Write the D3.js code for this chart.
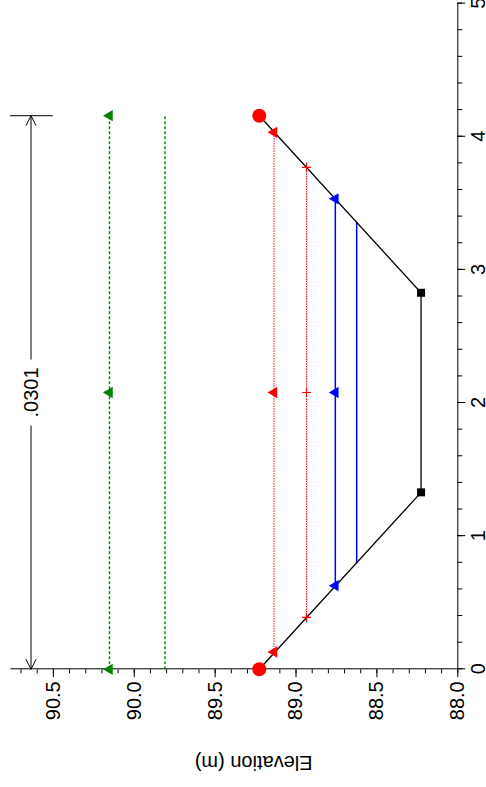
<!DOCTYPE html>
<html>
<head>
<meta charset="utf-8">
<script src="https://cdn.jsdelivr.net/npm/d3@7"></script>
<style>
  html, body { margin: 0; padding: 0; background: #fff; }
  svg { display: block; font-family: "Liberation Sans", Arial, sans-serif; }
  .axis path, .axis line { stroke: #000; stroke-width: 1; }
  .axis text { font-size: 20px; fill: #000; }
</style>
</head>
<body>
<svg id="chart" width="486" height="787"></svg>
<script>
// ground section (station m, elevation m)
const groundStation = [0, 1.329, 2.828, 4.158];
const groundElev = [89.224, 88.224, 88.224, 89.224];
const groundMarker = ["circle", "square", "square", "circle"];

// water levels drawn across the section
const levelElev = [90.15, 89.807, 89.133, 88.932, 88.754, 88.622];
const levelFrom = [0, 0, 0.13, 0.39, 0.628, 0.796];
const levelTo = [4.158, 4.158, 4.033, 3.77, 3.534, 3.36];
const levelColor = ["#008000", "#008000", "#ff0000", "#ff0000", "#0000ff", "#0000ff"];
const levelDash = ["3,2", "3,2", "1.5,1", "1.5,1", null, null];
const levelMarker = ["triangle", null, "triangle", "plus", "triangle", null];
const levelMarkerStation = [
  [0, 2.079, 4.158],
  [],
  [0.13, 2.079, 4.033],
  [0.39, 2.079, 3.77],
  [0.628, 2.079, 3.534],
  []
];

// dimension line on top
const dimElev = 90.635;
const dimFrom = 0;
const dimTo = 4.158;
const dimLabel = ".0301";

const stationTicks = [0, 1, 2, 3, 4, 5];
const elevTicks = [88.0, 88.5, 89.0, 89.5, 90.0, 90.5];

// chart is drawn upright then turned a quarter turn (counter-clockwise)
const W = 787, H = 486;
const svg = d3.select("#chart");
const g = svg.append("g").attr("transform", `translate(0,${W}) rotate(-90)`);

const x = d3.scaleLinear().domain([0, 5]).range([117.7, 783.4]);
const y = d3.scaleLinear().domain([88, 90.765]).range([457.3, 10]);

// minor ticks first, then main axes
g.append("g")
  .attr("class", "axis")
  .attr("transform", `translate(0,${y(88)})`)
  .call(d3.axisBottom(x).ticks(25).tickSize(5).tickSizeOuter(0).tickFormat(""))
  .call(s => s.select(".domain").remove());

g.append("g")
  .attr("class", "axis")
  .attr("transform", `translate(${x(0)},0)`)
  .call(d3.axisLeft(y).tickValues(d3.range(88, 90.76, 0.1)).tickSize(4).tickSizeOuter(0).tickFormat(""))
  .call(s => s.select(".domain").remove());

g.append("g")
  .attr("class", "axis")
  .attr("transform", `translate(0,${y(88)})`)
  .call(d3.axisBottom(x).tickValues(stationTicks).tickSize(8).tickSizeOuter(0).tickPadding(6).tickFormat(d3.format("d")));

g.append("g")
  .attr("class", "axis")
  .attr("transform", `translate(${x(0)},0)`)
  .call(d3.axisLeft(y).tickValues(elevTicks).tickSize(8).tickSizeOuter(0).tickPadding(4).tickFormat(d3.format(".1f")));

g.append("text")
  .attr("transform", `translate(24,${(y(88) + y(90.765)) / 2 + 20}) rotate(-90)`)
  .attr("text-anchor", "middle")
  .attr("dominant-baseline", "central")
  .style("font-size", "20px")
  .text("Elevation (m)");

// levels
levelElev.forEach((e, i) => {
  g.append("line")
    .attr("x1", x(levelFrom[i]))
    .attr("x2", x(levelTo[i]))
    .attr("y1", y(e))
    .attr("y2", y(e))
    .attr("stroke", levelColor[i])
    .attr("stroke-width", levelDash[i] ? (levelColor[i] === "#008000" ? 1.4 : 1) : 1.5)
    .attr("stroke-dasharray", levelDash[i]);
});

// ground line
const line = d3.line().x(d => x(d[0])).y(d => y(d[1]));
g.append("path")
  .datum(d3.zip(groundStation, groundElev))
  .attr("d", line)
  .attr("fill", "none")
  .attr("stroke", "#000")
  .attr("stroke-width", 1.3);

// dimension line with open arrows
const dimY = y(dimElev);
const dim = g.append("g").attr("stroke", "#000").attr("stroke-width", 1).attr("fill", "none");
const labelText = g.append("text")
  .attr("x", x((dimFrom + dimTo) / 2))
  .attr("y", dimY)
  .attr("text-anchor", "middle")
  .attr("dominant-baseline", "central")
  .style("font-size", "20px")
  .text(dimLabel);
const halfGap = labelText.node().getComputedTextLength() / 2 + 8;
const midX = x((dimFrom + dimTo) / 2);
dim.append("line").attr("x1", x(dimFrom)).attr("x2", midX - halfGap).attr("y1", dimY).attr("y2", dimY);
dim.append("line").attr("x1", midX + halfGap).attr("x2", x(dimTo)).attr("y1", dimY).attr("y2", dimY);
dim.append("line").attr("x1", x(dimTo)).attr("x2", x(dimTo)).attr("y1", y(90.5)).attr("y2", y(90.765));
[[x(dimFrom), 1], [x(dimTo), -1]].forEach(([px, dir]) => {
  dim.append("path").attr("d", `M${px + dir * 10},${dimY - 5}L${px},${dimY}L${px + dir * 10},${dimY + 5}`);
});

// markers
function drawMarker(type, cx, cy, color) {
  if (type === "triangle") {
    g.append("path")
      .attr("transform", `translate(${cx},${cy})`)
      .attr("d", d3.symbol(d3.symbolTriangle, 55)())
      .attr("fill", color);
  } else if (type === "plus") {
    g.append("path")
      .attr("d", `M${cx - 4.5},${cy}H${cx + 4.5}M${cx},${cy - 4.5}V${cy + 4.5}`)
      .attr("stroke", color)
      .attr("stroke-width", 1.2);
  } else if (type === "circle") {
    g.append("circle").attr("cx", cx).attr("cy", cy).attr("r", 7).attr("fill", color);
  } else if (type === "square") {
    g.append("rect").attr("x", cx - 4).attr("y", cy - 4).attr("width", 8).attr("height", 8).attr("fill", color);
  }
}

levelElev.forEach((e, i) => {
  if (!levelMarker[i]) return;
  levelMarkerStation[i].forEach(s => drawMarker(levelMarker[i], x(s), y(e), levelColor[i]));
});

groundStation.forEach((s, i) => {
  drawMarker(groundMarker[i], x(s), y(groundElev[i]), groundMarker[i] === "circle" ? "#ff0000" : "#000");
});
</script>
</body>
</html>
